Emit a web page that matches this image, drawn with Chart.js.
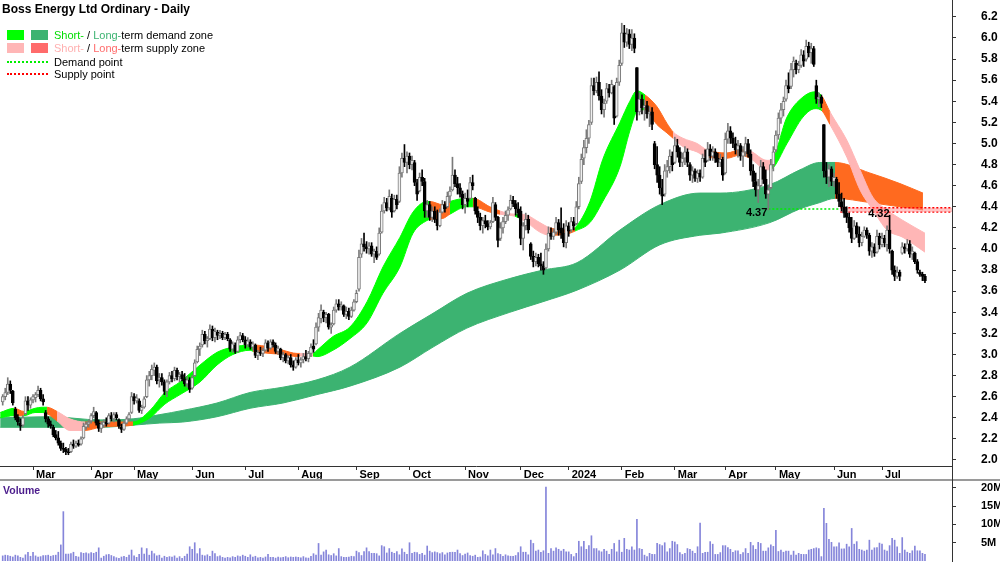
<!DOCTYPE html>
<html>
<head>
<meta charset="utf-8">
<script src="https://cdn.jsdelivr.net/npm/chart.js@4.4.1/dist/chart.umd.min.js"></script>
<style>
  html, body { margin: 0; padding: 0; background: #fff; }
  #wrap { position: relative; width: 1000px; height: 562px; overflow: hidden; font-family: "Liberation Sans", Arial, sans-serif; }
  #priceChart { position: absolute; left: 0; top: 0; }
  #volChart { position: absolute; left: 0; top: 482px; }
  .title { position: absolute; left: 2px; top: 2px; font-size: 12px; font-weight: bold; color: #000; white-space: nowrap; }
  .row { position: absolute; left: 54px; font-size: 11px; color: #000; white-space: nowrap; line-height: 12px; }
  .sw { position: absolute; width: 17px; height: 10px; }
  .dots { position: absolute; left: 7px; width: 41px; height: 0; border-top: 2px dotted; }
  .vol-label { position: absolute; left: 3px; top: 484px; font-size: 10.5px; font-weight: bold; color: #4b1c8c; }
  .divider { position: absolute; left: 0; top: 479px; width: 1000px; height: 2px; background: #9a9a9a; }
  .vline { position: absolute; left: 952px; top: 466px; width: 1px; height: 16px; background: #333; }
</style>
</head>
<body>
<div id="wrap">
  <canvas id="priceChart" width="1000" height="482"></canvas>
  <canvas id="volChart" width="1000" height="80"></canvas>
  <div class="divider"></div>
  <div class="vline"></div>

  <div class="title">Boss Energy Ltd Ordinary - Daily</div>

  <div class="sw" style="left:7px; top:30px; background:#00ff00"></div>
  <div class="sw" style="left:31px; top:30px; background:#3cb371"></div>
  <div class="row" style="top:29px"><span style="color:#00dd00">Short-</span> / <span style="color:#3cb371">Long-</span>term demand zone</div>

  <div class="sw" style="left:7px; top:43px; background:#ffb6b6"></div>
  <div class="sw" style="left:31px; top:43px; background:#ff6b6b"></div>
  <div class="row" style="top:42px"><span style="color:#ffb0b0">Short-</span> / <span style="color:#ff6b6b">Long-</span>term supply zone</div>

  <div class="dots" style="top:61px; border-color:#00ee00"></div>
  <div class="row" style="top:56px">Demand point</div>

  <div class="dots" style="top:73px; border-color:#ff0000"></div>
  <div class="row" style="top:68px">Supply point</div>

  <div class="vol-label">Volume</div>
</div>

<script>
// Daily prices, 13 Feb 2023 - 24 Jul 2024 (index = trading day)
const opens = [
  2.55,2.60,2.64,2.72,2.65,2.48,2.41,2.35,2.33,2.44, 2.56,2.52,2.57,2.59,2.62,2.66,2.58,2.45,2.39,2.34,
  2.31,2.24,2.21,2.16,2.11,2.10,2.08,2.08,2.15,2.13, 2.16,2.15,2.21,2.31,2.34,2.37,2.42,2.45,2.35,2.30,
  2.33,2.36,2.35,2.42,2.39,2.43,2.38,2.31,2.29,2.35, 2.39,2.45,2.60,2.56,2.56,2.47,2.50,2.60,2.76,2.80,
  2.85,2.88,2.76,2.78,2.74,2.65,2.74,2.80,2.77,2.85, 2.79,2.81,2.77,2.72,2.76,2.68,2.80,2.93,3.05,3.09,
  3.19,3.13,3.15,3.24,3.16,3.21,3.18,3.20,3.16,3.19, 3.14,3.05,3.09,3.03,3.14,3.18,3.14,3.09,3.12,3.07,
  3.09,2.99,3.02,3.01,3.04,3.11,3.06,3.12,3.09,3.03, 3.05,2.97,3.00,2.94,2.97,2.90,2.88,2.95,2.92,2.95,
  2.98,2.96,3.01,3.08,3.10,3.26,3.34,3.40,3.35,3.38, 3.26,3.29,3.42,3.48,3.45,3.46,3.38,3.41,3.36,3.42,
  3.50,3.62,3.95,4.05,4.02,4.00,4.03,3.95,3.98,3.95, 4.16,4.36,4.44,4.39,4.48,4.36,4.47,4.45,4.72,4.86,
  4.82,4.88,4.80,4.82,4.63,4.55,4.68,4.64,4.36,4.42, 4.30,4.36,4.28,4.22,4.35,4.42,4.40,4.50,4.56,4.70,
  4.62,4.58,4.52,4.42,4.48,4.48,4.63,4.48,4.36,4.30, 4.22,4.27,4.24,4.21,4.26,4.42,4.30,4.10,4.20,4.26,
  4.32,4.38,4.46,4.43,4.38,4.36,4.10,4.22,4.28,4.05, 3.93,3.88,3.92,3.86,3.84,3.82,4.00,4.15,4.12,4.16,
  4.25,4.20,4.15,4.06,4.22,4.18,4.26,4.24,4.40,4.64, 4.86,4.96,5.05,5.20,5.55,5.50,5.58,5.45,5.32,5.40,
  5.52,5.48,5.54,5.26,5.58,5.76,6.05,5.96,6.04,5.94, 6.00,5.72,5.30,5.42,5.34,5.36,5.28,5.30,5.00,4.80,
  4.70,4.58,4.52,4.74,4.78,4.88,4.82,4.98,4.92,4.82, 4.86,4.92,4.80,4.70,4.74,4.67,4.72,4.68,4.86,4.84,
  4.95,4.88,4.92,4.86,4.82,4.85,4.72,5.04,5.12,5.05, 5.00,4.94,4.98,4.88,4.92,5.00,4.90,4.74,4.64,4.56,
  4.60,4.78,4.66,4.52,4.58,4.80,4.94,5.08,5.24,5.32, 5.42,5.55,5.54,5.70,5.76,5.70,5.74,5.84,5.80,5.92,
  5.86,5.90,5.55,5.42,5.44,5.18,4.74,4.68,4.76,4.64, 4.66,4.52,4.45,4.40,4.34,4.30,4.20,4.10,4.22,4.14,
  4.06,4.12,4.18,4.13,3.98,4.02,3.97,4.12,4.04,4.10, 4.04,4.18,3.98,3.80,3.74,3.78,3.96,4.02,4.00,4.05,
  3.95,3.96,3.88,3.78,3.76,3.74
];
const highs = [
  2.62,2.68,2.78,2.75,2.66,2.50,2.43,2.39,2.42,2.60, 2.60,2.59,2.62,2.64,2.70,2.68,2.62,2.47,2.41,2.37,
  2.33,2.28,2.27,2.18,2.16,2.12,2.11,2.17,2.19,2.18, 2.19,2.22,2.35,2.36,2.38,2.44,2.50,2.46,2.38,2.36,
  2.38,2.40,2.44,2.45,2.45,2.45,2.39,2.34,2.37,2.41, 2.45,2.64,2.63,2.62,2.58,2.52,2.60,2.80,2.84,2.90,
  2.92,2.90,2.82,2.82,2.76,2.76,2.83,2.84,2.88,2.87, 2.83,2.84,2.82,2.79,2.78,2.80,2.95,3.08,3.11,3.23,
  3.22,3.17,3.28,3.27,3.25,3.23,3.23,3.22,3.21,3.21, 3.15,3.12,3.11,3.17,3.21,3.20,3.17,3.16,3.14,3.12,
  3.10,3.04,3.07,3.06,3.14,3.13,3.14,3.14,3.11,3.08, 3.06,3.02,3.01,2.99,3.00,2.94,2.97,3.00,2.97,3.01,
  3.04,3.03,3.10,3.14,3.30,3.39,3.47,3.42,3.40,3.39, 3.30,3.45,3.52,3.52,3.50,3.47,3.45,3.44,3.45,3.52,
  3.61,3.99,4.10,4.15,4.07,4.06,4.06,4.00,4.02,4.20, 4.42,4.49,4.48,4.56,4.52,4.51,4.51,4.78,4.91,4.99,
  4.92,4.91,4.88,4.84,4.66,4.72,4.75,4.67,4.46,4.45, 4.40,4.40,4.37,4.38,4.46,4.45,4.54,4.59,4.87,4.75,
  4.68,4.62,4.55,4.53,4.56,4.68,4.70,4.49,4.40,4.34, 4.30,4.32,4.27,4.27,4.49,4.44,4.31,4.25,4.30,4.36,
  4.40,4.51,4.50,4.46,4.44,4.40,4.25,4.34,4.32,4.06, 3.98,3.96,3.95,3.96,3.88,4.05,4.21,4.20,4.19,4.30,
  4.28,4.39,4.24,4.27,4.25,4.30,4.30,4.45,4.68,4.90, 5.03,5.13,5.22,5.62,5.62,5.63,5.68,5.51,5.42,5.57,
  5.56,5.60,5.55,5.62,5.79,6.14,6.12,6.09,6.08,6.08, 6.04,5.72,5.48,5.46,5.41,5.40,5.35,5.34,5.02,4.97,
  4.78,4.66,4.80,4.84,4.94,4.92,5.06,5.04,4.96,4.91, 4.97,4.95,4.82,4.78,4.76,4.75,4.75,4.90,4.94,5.01,
  4.99,4.97,4.95,4.91,4.90,4.87,5.10,5.19,5.16,5.10, 5.06,5.03,5.00,4.97,5.06,5.04,4.94,4.80,4.72,4.66,
  4.84,4.82,4.75,4.60,4.85,4.97,5.12,5.29,5.38,5.44, 5.60,5.67,5.76,5.82,5.79,5.78,5.89,5.88,5.98,5.96,
  5.95,5.92,5.60,5.48,5.46,5.18,4.82,4.80,4.78,4.72, 4.68,4.63,4.53,4.48,4.40,4.34,4.30,4.27,4.25,4.21,
  4.16,4.21,4.20,4.15,4.06,4.05,4.18,4.15,4.15,4.13, 4.22,4.32,3.99,3.84,3.83,3.80,4.06,4.05,4.09,4.08,
  4.02,3.97,3.90,3.80,3.78,3.76
];
const lows = [
  2.52,2.57,2.62,2.63,2.52,2.38,2.33,2.28,2.31,2.43, 2.47,2.49,2.54,2.55,2.60,2.56,2.52,2.36,2.31,2.30,
  2.22,2.19,2.14,2.09,2.07,2.05,2.05,2.07,2.11,2.12, 2.13,2.14,2.20,2.29,2.31,2.35,2.40,2.33,2.27,2.26,
  2.31,2.32,2.34,2.37,2.36,2.38,2.30,2.26,2.28,2.34, 2.37,2.44,2.53,2.54,2.45,2.44,2.49,2.59,2.70,2.76,
  2.80,2.72,2.69,2.71,2.62,2.60,2.72,2.74,2.75,2.76, 2.74,2.75,2.70,2.69,2.64,2.67,2.79,2.92,2.99,3.07,
  3.10,3.07,3.14,3.13,3.12,3.14,3.15,3.14,3.14,3.13, 3.03,3.02,3.01,3.02,3.11,3.12,3.06,3.07,3.05,3.04,
  2.97,2.95,2.99,2.98,3.03,3.03,3.05,3.07,3.01,3.00, 2.95,2.93,2.92,2.91,2.88,2.85,2.87,2.90,2.88,2.92,
  2.94,2.93,2.98,3.02,3.09,3.22,3.30,3.31,3.30,3.24, 3.20,3.28,3.40,3.42,3.42,3.36,3.34,3.33,3.35,3.41,
  3.49,3.60,3.92,3.98,3.96,3.95,3.93,3.87,3.90,3.94, 4.15,4.34,4.36,4.37,4.30,4.35,4.38,4.44,4.68,4.78,
  4.72,4.76,4.75,4.60,4.46,4.54,4.60,4.30,4.30,4.27, 4.26,4.25,4.18,4.21,4.34,4.35,4.39,4.44,4.55,4.59,
  4.52,4.49,4.38,4.34,4.40,4.47,4.56,4.33,4.25,4.18, 4.15,4.20,4.18,4.19,4.25,4.27,4.02,4.08,4.15,4.24,
  4.27,4.37,4.40,4.32,4.30,4.04,3.99,4.18,4.15,3.90, 3.83,3.84,3.83,3.80,3.76,3.81,3.98,4.09,4.09,4.14,
  4.13,4.10,4.02,4.01,4.12,4.16,4.18,4.23,4.38,4.62, 4.80,4.91,5.00,5.18,5.46,5.48,5.41,5.28,5.25,5.38,
  5.44,5.47,5.18,5.25,5.55,5.74,5.91,5.92,5.90,5.88, 5.86,5.22,5.27,5.28,5.22,5.24,5.16,5.13,4.76,4.63,
  4.52,4.42,4.50,4.68,4.72,4.74,4.81,4.87,4.78,4.78, 4.80,4.78,4.65,4.63,4.64,4.63,4.64,4.67,4.78,4.83,
  4.84,4.84,4.82,4.78,4.78,4.65,4.71,5.00,5.00,4.96, 4.90,4.87,4.84,4.78,4.88,4.87,4.70,4.59,4.50,4.44,
  4.59,4.62,4.48,4.37,4.57,4.74,4.92,5.04,5.19,5.26, 5.40,5.48,5.52,5.63,5.66,5.67,5.72,5.73,5.78,5.82,
  5.76,5.73,5.38,5.35,5.34,4.68,4.62,4.59,4.60,4.59, 4.48,4.40,4.36,4.30,4.25,4.16,4.06,4.09,4.11,4.02,
  4.03,4.11,4.10,3.94,3.92,3.93,3.96,4.00,4.02,4.02, 3.98,3.96,3.76,3.70,3.72,3.70,3.95,3.96,3.98,3.92,
  3.90,3.86,3.77,3.74,3.70,3.68
];
const closes = [
  2.60,2.64,2.72,2.66,2.54,2.40,2.36,2.32,2.40,2.56, 2.52,2.57,2.60,2.62,2.66,2.58,2.55,2.39,2.34,2.32,
  2.24,2.21,2.16,2.11,2.10,2.08,2.07,2.15,2.13,2.16, 2.14,2.20,2.32,2.34,2.36,2.42,2.46,2.35,2.30,2.34,
  2.36,2.34,2.42,2.39,2.43,2.40,2.32,2.29,2.35,2.39, 2.43,2.60,2.56,2.59,2.47,2.50,2.58,2.76,2.80,2.86,
  2.88,2.75,2.78,2.74,2.65,2.74,2.80,2.77,2.85,2.79, 2.81,2.77,2.72,2.76,2.67,2.78,2.92,3.05,3.08,3.19,
  3.13,3.15,3.24,3.16,3.22,3.18,3.20,3.16,3.19,3.15, 3.05,3.10,3.03,3.14,3.18,3.14,3.09,3.13,3.07,3.10,
  2.99,3.02,3.01,3.04,3.11,3.06,3.12,3.09,3.03,3.06, 2.97,3.00,2.94,2.97,2.90,2.88,2.95,2.92,2.95,2.98,
  2.96,3.01,3.07,3.05,3.26,3.35,3.42,3.35,3.38,3.26, 3.28,3.42,3.48,3.45,3.47,3.38,3.41,3.36,3.42,3.50,
  3.58,3.92,4.05,4.02,4.00,4.03,3.95,3.98,3.92,4.15, 4.36,4.44,4.39,4.50,4.35,4.47,4.42,4.72,4.86,4.82,
  4.88,4.80,4.84,4.63,4.52,4.68,4.64,4.36,4.42,4.30, 4.36,4.28,4.22,4.35,4.42,4.38,4.50,4.55,4.70,4.62,
  4.58,4.52,4.42,4.48,4.45,4.63,4.60,4.36,4.30,4.22, 4.27,4.24,4.21,4.25,4.44,4.30,4.08,4.20,4.26,4.32,
  4.37,4.46,4.43,4.38,4.34,4.10,4.22,4.28,4.18,3.93, 3.88,3.92,3.86,3.84,3.80,4.00,4.15,4.12,4.16,4.25,
  4.18,4.15,4.06,4.22,4.17,4.26,4.22,4.40,4.62,4.85, 4.96,5.05,5.18,5.55,5.50,5.58,5.45,5.32,5.38,5.52,
  5.48,5.56,5.24,5.58,5.74,6.05,5.96,6.04,5.94,6.00, 5.90,5.30,5.42,5.34,5.36,5.28,5.30,5.18,4.80,4.70,
  4.58,4.50,4.74,4.78,4.88,4.80,4.98,4.92,4.82,4.86, 4.92,4.82,4.70,4.74,4.67,4.72,4.68,4.86,4.82,4.95,
  4.88,4.92,4.86,4.82,4.85,4.70,5.04,5.12,5.05,5.00, 4.94,4.98,4.88,4.92,5.00,4.90,4.74,4.64,4.56,4.60,
  4.78,4.66,4.52,4.56,4.80,4.92,5.08,5.24,5.32,5.40, 5.55,5.52,5.70,5.78,5.70,5.74,5.84,5.78,5.92,5.86,
  5.90,5.75,5.42,5.44,5.38,4.74,4.68,4.76,4.64,4.68, 4.52,4.45,4.40,4.34,4.30,4.20,4.10,4.22,4.14,4.06,
  4.12,4.18,4.13,3.98,4.02,3.96,4.12,4.04,4.10,4.06, 4.18,4.00,3.80,3.74,3.78,3.74,4.02,4.00,4.05,3.95,
  3.98,3.88,3.80,3.76,3.74,3.70
];
// Volume, millions of shares
const volumes = [
  1.4,1.6,1.5,1.3,1.1,1.6,1.4,1.0,0.8,1.7, 2.4,1.3,2.4,1.4,1.1,1.2,1.5,1.5,1.6,1.3,
  1.5,1.6,2.4,4.4,13.5,1.9,1.9,2.0,2.4,1.3, 1.1,2.3,2.1,2.2,2.0,2.3,2.1,2.4,3.6,0.8,
  1.3,1.7,1.8,1.5,1.2,0.9,0.7,1.1,1.3,1.0, 1.6,3.0,1.4,1.0,1.8,3.6,1.9,3.4,1.6,2.7,
  2.0,1.4,1.6,0.8,1.3,1.0,1.2,1.1,1.4,0.8, 1.2,0.7,1.3,1.9,3.9,3.2,5.0,2.0,3.4,1.6,
  1.4,1.7,1.3,2.7,2.0,1.2,1.4,1.0,0.8,1.0, 0.9,1.2,1.0,1.4,1.2,1.6,1.3,1.0,1.7,1.1,
  1.3,0.9,1.0,0.8,1.1,1.8,1.0,1.0,0.8,1.1, 0.9,1.0,1.2,0.9,1.1,1.0,1.1,1.0,0.9,1.2,
  0.9,0.8,1.3,2.0,1.6,4.8,1.6,2.5,3.0,1.7, 1.5,2.0,1.4,3.4,1.2,1.0,1.0,1.1,1.3,1.2,
  2.7,2.3,1.5,2.6,3.6,2.6,2.1,2.1,2.0,1.4, 4.2,3.9,2.2,3.4,2.4,2.1,2.6,1.7,3.3,2.4,
  1.8,5.0,2.1,2.4,2.3,1.8,2.1,1.6,4.1,2.7, 2.3,2.5,2.3,2.0,2.3,1.7,2.2,2.4,2.4,2.4,
  3.0,2.0,1.5,1.9,2.2,1.5,1.3,1.6,1.0,1.1, 2.8,1.8,1.4,3.0,1.7,3.4,2.0,1.8,1.3,1.7,
  1.4,1.3,1.3,1.5,2.3,3.9,2.4,2.4,1.7,5.7, 4.8,2.7,3.0,2.4,2.8,20.2,2.1,3.4,2.7,3.6,
  3.2,2.7,3.2,2.5,2.5,1.8,1.2,2.1,5.4,3.9, 5.4,3.2,4.2,6.9,3.4,3.4,2.8,2.5,3.2,2.7,
  1.8,3.2,4.8,2.5,5.7,2.4,6.2,3.2,3.0,3.9, 3.0,11.4,3.4,3.2,1.6,1.2,2.1,1.8,1.8,4.8,
  4.5,4.2,5.0,2.5,3.4,5.4,5.2,4.5,2.3,1.8, 2.1,3.4,3.2,2.7,2.1,3.9,10.4,2.1,2.4,2.4,
  5.3,4.6,1.8,1.8,2.3,4.2,4.2,3.7,3.2,2.4, 2.8,2.8,1.8,2.3,3.4,2.1,5.1,4.2,3.2,5.1,
  4.8,2.7,2.7,3.6,4.4,4.0,8.4,2.6,3.0,2.4, 2.7,2.7,1.6,2.7,1.6,2.1,1.8,1.8,1.8,3.0,
  3.2,3.4,3.6,3.4,1.2,14.4,10.3,5.9,5.1,3.9, 3.9,5.0,3.3,3.3,4.6,3.9,8.9,4.6,5.3,3.2,
  3.0,2.7,3.0,5.7,3.0,3.6,3.7,4.9,4.6,3.0, 2.7,4.2,6.2,5.7,3.9,2.1,6.4,3.0,2.4,2.1,
  2.8,4.1,2.8,2.8,2.1,1.8
];

// Month ticks (trading-day index of first session in month)
const monthIdx = [12, 35, 52, 75, 96, 117, 140, 161, 183, 205, 224, 245, 266, 286, 306, 329, 348];
const monthLabels = ["Mar", "Apr", "May", "Jun", "Jul", "Aug", "Sep", "Oct", "Nov", "Dec", "2024", "Feb", "Mar", "Apr", "May", "Jun", "Jul"];
const priceTicks = [2.0, 2.2, 2.4, 2.6, 2.8, 3.0, 3.2, 3.4, 3.6, 3.8, 4.0, 4.2, 4.4, 4.6, 4.8, 5.0, 5.2, 5.4, 5.6, 5.8, 6.0, 6.2];
const volumeTicks = [5, 10, 15, 20];

// Short-term trend zone (edges), D = demand, S = supply, X = strong supply
const shortIdx = [-1, 4.5, 8.4, 12.8, 15.6, 17.5, 21.5, 26.6, 32.6, 38.5, 44.4, 51.6, 58.3, 64.2, 70.2, 78.1, 84.8, 91.1, 97.9, 99.1,
  105.8, 110.9, 116.5, 117.6, 122.8, 124.4, 130.7, 137.4, 144.2, 150.5, 157.2, 162.4, 167.9, 169.1, 174.2, 177.0, 183.7, 186.1, 192.8, 196.8,
  202.7, 204.7, 207.5, 212.6, 216.6, 224.5, 226.5, 232.4, 237.5, 244.3, 248.2, 251.0, 254.2, 258.9, 262.9, 265.3, 269.2, 274.8, 278.7, 286.6,
  291.8, 295.7, 302.5, 304.4, 310.4, 316.7, 321.5, 324.2, 327.4, 334.1, 339.3, 344.4, 350.0, 356.3, 365.0];
const shortTop = [2.45, 2.49, 2.46, 2.49, 2.50, 2.50, 2.46, 2.39, 2.36, 2.36, 2.36, 2.36, 2.47, 2.64, 2.74, 2.90, 3.02, 3.07, 3.09, 3.09,
  3.07, 3.04, 3.01, 3.01, 3.01, 3.04, 3.17, 3.26, 3.50, 3.83, 4.11, 4.35, 4.45, 4.45, 4.42, 4.45, 4.48, 4.48, 4.40, 4.36,
  4.33, 4.33, 4.32, 4.25, 4.20, 4.18, 4.20, 4.45, 4.85, 5.20, 5.40, 5.50, 5.46, 5.35, 5.19, 5.11, 5.05, 5.00, 4.94, 4.91,
  4.94, 4.93, 4.84, 4.85, 5.25, 5.44, 5.49, 5.45, 5.30, 5.03, 4.75, 4.49, 4.37, 4.27, 4.15];
const shortBot = [2.40, 2.42, 2.42, 2.45, 2.45, 2.44, 2.37, 2.28, 2.28, 2.31, 2.32, 2.33, 2.40, 2.53, 2.62, 2.74, 2.90, 3.00, 3.04, 3.03,
  3.01, 3.00, 2.98, 2.985, 2.985, 2.98, 3.04, 3.15, 3.30, 3.58, 3.83, 4.15, 4.27, 4.28, 4.29, 4.33, 4.40, 4.40, 4.35, 4.33,
  4.31, 4.29, 4.25, 4.16, 4.13, 4.15, 4.17, 4.25, 4.45, 4.78, 5.12, 5.30, 5.32, 5.18, 5.10, 5.05, 4.97, 4.92, 4.87, 4.86,
  4.89, 4.86, 4.75, 4.76, 5.00, 5.25, 5.33, 5.31, 5.18, 4.87, 4.56, 4.37, 4.18, 4.11, 3.97];
const shortZone = ["D","X","D","D","D","X","S","S","X","X","X","D","D","D","D","D","D","D","D","X",
  "X","X","X","S","D","D","D","D","D","D","D","D","D","X","X","D","D","X","X","S",
  "D","S","S","S","X","X","D","D","D","D","D","D","X","X","X","S","S","S","X","X",
  "X","S","S","D","D","D","D","X","S","S","S","S","S","S","S"];

// Long-term trend zone
const longIdx = [-1, 18.7, 38.5, 51.6, 62.2, 71.3, 84.8, 97.9, 110.9, 124.4, 137.4, 157.2, 170.3, 183.7, 200.7, 213.8, 227.3, 244.3, 260.1, 275.9,
  283.9, 303.6, 315.5, 323.4, 329.4, 343.2, 355.1, 364.2];
const longTop = [2.40, 2.41, 2.38, 2.39, 2.43, 2.47, 2.54, 2.64, 2.69, 2.76, 2.88, 3.20, 3.39, 3.58, 3.72, 3.80, 3.87, 4.18, 4.42, 4.53,
  4.53, 4.61, 4.75, 4.82, 4.82, 4.72, 4.62, 4.53];
const longBot = [2.31, 2.31, 2.31, 2.33, 2.35, 2.36, 2.41, 2.49, 2.54, 2.62, 2.70, 2.88, 3.07, 3.25, 3.40, 3.50, 3.61, 3.80, 4.04, 4.13,
  4.15, 4.25, 4.38, 4.44, 4.48, 4.44, 4.40, 4.37];
const longZone = ["D","D","D","D","D","D","D","D","D","D","D","D","D","D","D","D","D","D","D","D",
  "D","D","D","D","X","X","X","X"];

// Demand / supply points
const demandPoint = { idx: 303, price: 4.37 };
const supplyPoint = { idx: 351, price: 4.32 };
const demandLine = { from: 303, to: 331.5, level: 4.38 };
const supplyBand = { from: 331.5, top: 4.39, bottom: 4.35 };

// Colours
const shortColors = { D: "#00ff00", S: "#ffb6b6", X: "#ff6a1f" };
const longColors = { D: "#3cb371", S: "#ffb6b6", X: "#ff6a1f" };
const upFill = "#f0f0f0", upEdge = "#7a7a7a", downFill = "#000000";

const xMin = -1.07, xMax = 375.7;
const FONT = '"Liberation Sans", Arial, sans-serif';
Chart.defaults.font.family = FONT;
Chart.defaults.color = "#000";

function zoneLine(idx, vals, zones, colors, fill, order) {
  return {
    type: "line",
    data: idx.map((x, i) => ({ x: x, y: vals[i] })),
    fill: fill,
    order: order,
    pointRadius: 0,
    borderWidth: 1,
    cubicInterpolationMode: "monotone",
    backgroundColor: colors[zones[0]],
    borderColor: colors[zones[0]],
    segment: {
      backgroundColor: c => colors[zones[c.p0DataIndex]],
      borderColor: c => colors[zones[c.p0DataIndex]],
    },
  };
}

const isUp = i => closes[i] >= opens[i];

// keep axes from padding the plot area
const noPad = s => { s.paddingTop = 0; s.paddingBottom = 0; s.paddingLeft = 0; s.paddingRight = 0; };

// Labels for the demand / supply points
const pointLabels = {
  id: "pointLabels",
  afterDatasetsDraw(chart) {
    const { ctx, scales: { x, y } } = chart;
    ctx.save();
    ctx.font = "bold 11px " + FONT;
    ctx.fillStyle = "#000";
    ctx.textAlign = "right";
    ctx.textBaseline = "middle";
    ctx.fillText(demandPoint.price.toFixed(2), x.getPixelForValue(demandPoint.idx) - 1, y.getPixelForValue(demandPoint.price) + 3);
    ctx.fillText(supplyPoint.price.toFixed(2), x.getPixelForValue(supplyPoint.idx), y.getPixelForValue(supplyPoint.price) - 1);
    ctx.restore();
  },
};

// Price chart
new Chart(document.getElementById("priceChart"), {
  type: "bar",
  data: {
    datasets: [
      zoneLine(longIdx, longTop, longZone, longColors, "+1", 30),
      zoneLine(longIdx, longBot, longZone, longColors, false, 30),
      zoneLine(shortIdx, shortTop, shortZone, shortColors, "+1", 20),
      zoneLine(shortIdx, shortBot, shortZone, shortColors, false, 20),
      {
        type: "line", order: 15, pointRadius: 0, borderWidth: 1.5, borderDash: [2, 2],
        borderColor: "#00ee00", fill: false,
        data: [{ x: demandLine.from, y: demandLine.level }, { x: demandLine.to, y: demandLine.level }],
      },
      {
        type: "line", order: 15, pointRadius: 0, borderWidth: 1.5, borderDash: [2, 2],
        borderColor: "#ff0000", fill: "+1", backgroundColor: "rgba(255,150,150,0.55)",
        data: [{ x: supplyBand.from, y: supplyBand.top }, { x: xMax, y: supplyBand.top }],
      },
      {
        type: "line", order: 15, pointRadius: 0, borderWidth: 1.5, borderDash: [2, 2],
        borderColor: "#ff0000", fill: false,
        data: [{ x: supplyBand.from, y: supplyBand.bottom }, { x: xMax, y: supplyBand.bottom }],
      },
      {
        // wicks
        order: 5, grouped: false, barThickness: 1,
        data: lows.map((l, i) => ({ x: i, y: [l, highs[i]] })),
        backgroundColor: c => isUp(c.dataIndex) ? upEdge : downFill,
      },
      {
        // bodies
        order: 1, grouped: false, barThickness: 3, minBarLength: 1,
        borderSkipped: false, borderWidth: 1,
        data: opens.map((o, i) => ({ x: i, y: [o, closes[i]] })),
        backgroundColor: c => isUp(c.dataIndex) ? upFill : downFill,
        borderColor: c => isUp(c.dataIndex) ? upEdge : downFill,
      },
    ],
  },
  options: {
    responsive: false,
    animation: false,
    layout: { padding: 0 },
    plugins: { legend: { display: false }, tooltip: { enabled: false } },
    scales: {
      x: {
        type: "linear", min: xMin, max: xMax, offset: false,
        afterBuildTicks: s => { s.ticks = monthIdx.map(v => ({ value: v })); },
        afterFit: s => { s.height = 16; noPad(s); },
        ticks: {
          autoSkip: false, maxRotation: 0, align: "start", labelOffset: 3, padding: -2,
          font: { size: 11, weight: "bold" }, color: "#000",
          callback: (v, i) => monthLabels[i],
        },
        grid: { drawOnChartArea: false, drawTicks: true, tickLength: 4, color: "#333", offset: false },
        border: { display: true, color: "#333" },
      },
      y: {
        position: "right", min: 1.943, max: 6.36,
        afterBuildTicks: s => { s.ticks = priceTicks.map(v => ({ value: v })); },
        afterFit: s => { s.width = 48; noPad(s); },
        ticks: { padding: 25, font: { size: 12, weight: "bold" }, color: "#000", callback: v => v.toFixed(1) },
        grid: { drawOnChartArea: false, drawTicks: true, tickLength: 4, color: "#333" },
        border: { display: true, color: "#333" },
      },
    },
  },
  plugins: [pointLabels],
});

// Volume chart
new Chart(document.getElementById("volChart"), {
  type: "bar",
  data: {
    datasets: [{
      data: volumes.map((v, i) => ({ x: i, y: v })),
      barThickness: 1,
      backgroundColor: "#8585da",
    }],
  },
  options: {
    responsive: false,
    animation: false,
    layout: { padding: { bottom: 1 } },
    plugins: { legend: { display: false }, tooltip: { enabled: false } },
    scales: {
      x: { type: "linear", min: xMin, max: xMax, offset: false, display: false },
      y: {
        position: "right", min: 0, max: 21.6,
        afterBuildTicks: s => { s.ticks = volumeTicks.map(v => ({ value: v })); },
        afterFit: s => { s.width = 48; noPad(s); },
        ticks: { padding: 25, font: { size: 11, weight: "bold" }, color: "#000", callback: v => v + "M" },
        grid: { drawOnChartArea: false, drawTicks: true, tickLength: 4, color: "#333" },
        border: { display: true, color: "#333" },
      },
    },
  },
});
</script>
</body>
</html>
